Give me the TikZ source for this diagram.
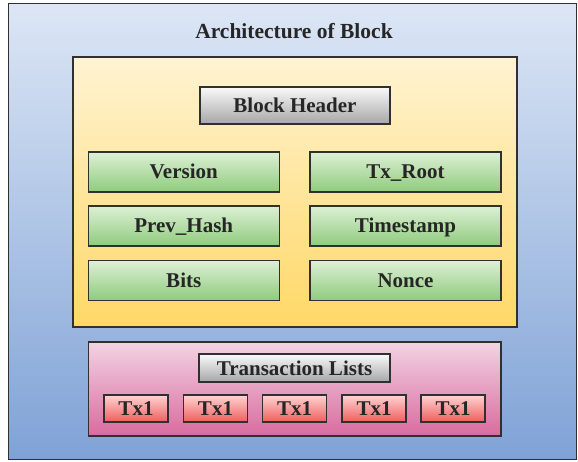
\documentclass[tikz,border=0pt]{standalone}
\usepackage{fontspec}
\setmainfont{Liberation Serif}
\usetikzlibrary{shadings}
\definecolor{frameA}{HTML}{DCE6F5}
\definecolor{frameB}{HTML}{7FA2D6}
\definecolor{yelA}{HTML}{FFF3D2}
\definecolor{yelB}{HTML}{FFD866}
\definecolor{grnA}{HTML}{DDF0D6}
\definecolor{grnB}{HTML}{8FCB7C}
\definecolor{gryA}{HTML}{FAFAFA}
\definecolor{gryB}{HTML}{A6A6A6}
\definecolor{pnkA}{HTML}{F2D3E3}
\definecolor{pnkB}{HTML}{D96B9E}
\definecolor{redA}{HTML}{FFD3D3}
\definecolor{redB}{HTML}{EE5E5E}
\definecolor{edge}{HTML}{303030}
\tikzset{
  box/.style={draw=edge, line width=1.4pt, inner sep=0pt, text height=14pt, text depth=0pt, font=\fontsize{21}{24}\selectfont\bfseries, text=black!85},
  greenbox/.style={box, top color=grnA, bottom color=grnB, minimum width=191pt, minimum height=40pt},
  graybox/.style={box, top color=gryA, bottom color=gryB},
  txbox/.style={box, top color=redA, bottom color=redB, minimum width=64pt, minimum height=27pt},
}
\begin{document}
\begin{tikzpicture}[x=1pt,y=-1pt]
\useasboundingbox (0,0) rectangle (578,462);
\node[draw=edge, line width=1pt, top color=frameA, bottom color=frameB, minimum width=568pt, minimum height=455pt, inner sep=0pt] (frame) at (292,231.5) {};
\node[font=\fontsize{21.5}{25}\selectfont\bfseries, text=black!85, text height=14pt, text depth=0pt, inner sep=0pt] (title) at (294,32) {Architecture of Block};
\node[box, top color=yelA, bottom color=yelB, minimum width=444pt, minimum height=270pt] (header) at (295,192) {};
\node[graybox, minimum width=190pt, minimum height=37pt] (bh) at (295,105.5) {Block Header};
\node[greenbox] (version) at (183.75,172) {Version};
\node[greenbox] (txroot) at (405.5,172) {Tx\_Root};
\node[greenbox] (prev) at (183.75,226) {Prev\_Hash};
\node[greenbox] (time) at (405.5,226) {Timestamp};
\node[greenbox] (bits) at (183.75,280.5) {Bits};
\node[greenbox] (nonce) at (405.5,280.5) {Nonce};
\node[box, top color=pnkA, bottom color=pnkB, minimum width=412.5pt, minimum height=94pt] (txlist) at (294.75,389) {};
\node[graybox, minimum width=191pt, minimum height=28pt] (tl) at (294.5,368) {Transaction Lists};
\node[txbox] (tx1) at (136,408.5) {Tx1};
\node[txbox] (tx2) at (215.5,408.5) {Tx1};
\node[txbox] (tx3) at (294.7,408.5) {Tx1};
\node[txbox] (tx4) at (374,408.5) {Tx1};
\node[txbox] (tx5) at (453,408.5) {Tx1};
\end{tikzpicture}
\end{document}
